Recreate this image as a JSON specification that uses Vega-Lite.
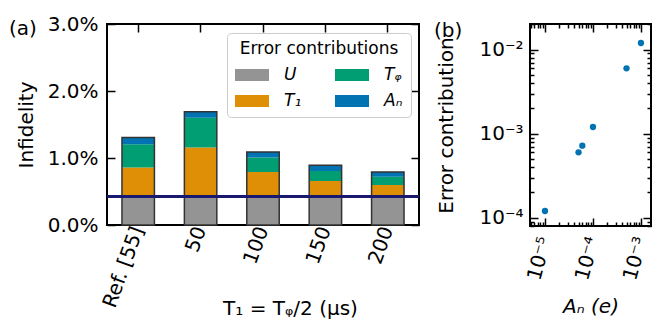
{
  "$schema": "https://vega.github.io/schema/vega-lite/v6.json",
  "padding": {"left": 8, "top": 13, "right": 16, "bottom": 1},
  "bounds": "flush",
  "config": {
    "font": "DejaVu Sans",
    "view": {"stroke": "black", "strokeWidth": 2},
    "axis": {
      "grid": false, "domain": false,
      "labelFont": "DejaVu Sans", "labelFontSize": 20, "labelColor": "black",
      "titleFont": "DejaVu Sans", "titleFontSize": 20, "titleFontWeight": "normal", "titleColor": "black",
      "tickColor": "black", "tickWidth": 1.5, "tickSize": -8, "labelPadding": 17
    },
    "title": {"font": "DejaVu Sans", "fontSize": 20, "fontWeight": "normal", "color": "black", "anchor": "start", "frame": "group"}
  },
  "datasets": {
    "bars": [
      {"setting": "Ref. [55]", "component": "U", "value": 0.42},
      {"setting": "Ref. [55]", "component": "T₁", "value": 0.437},
      {"setting": "Ref. [55]", "component": "Tᵩ", "value": 0.349},
      {"setting": "Ref. [55]", "component": "Aₙ", "value": 0.099},
      {"setting": "50", "component": "U", "value": 0.42},
      {"setting": "50", "component": "T₁", "value": 0.736},
      {"setting": "50", "component": "Tᵩ", "value": 0.444},
      {"setting": "50", "component": "Aₙ", "value": 0.09},
      {"setting": "100", "component": "U", "value": 0.42},
      {"setting": "100", "component": "T₁", "value": 0.372},
      {"setting": "100", "component": "Tᵩ", "value": 0.214},
      {"setting": "100", "component": "Aₙ", "value": 0.084},
      {"setting": "150", "component": "U", "value": 0.42},
      {"setting": "150", "component": "T₁", "value": 0.238},
      {"setting": "150", "component": "Tᵩ", "value": 0.149},
      {"setting": "150", "component": "Aₙ", "value": 0.083},
      {"setting": "200", "component": "U", "value": 0.42},
      {"setting": "200", "component": "T₁", "value": 0.178},
      {"setting": "200", "component": "Tᵩ", "value": 0.124},
      {"setting": "200", "component": "Aₙ", "value": 0.068}
    ],
    "pts": [
      {"An": 1e-5, "err": 1.2e-4},
      {"An": 5e-5, "err": 6.0e-4},
      {"An": 6e-5, "err": 7.2e-4},
      {"An": 1e-4, "err": 1.2e-3},
      {"An": 5e-4, "err": 6.0e-3},
      {"An": 1e-3, "err": 1.2e-2}
    ]
  },
  "spacing": 111,
  "hconcat": [
    {
      "width": 312, "height": 201,
      "title": {"text": "(a)", "dx": -98, "offset": -25},
      "data": {"name": "bars"},
      "transform": [{"calculate": "indexof(['U','T₁','Tᵩ','Aₙ'], datum.component)", "as": "stackOrder"}],
      "layer": [
        {
          "mark": {"type": "bar"},
          "encoding": {
            "x": {"field": "setting", "type": "nominal", "sort": ["Ref. [55]", "50", "100", "150", "200"],
                  "scale": {"paddingInner": 0.48, "paddingOuter": 0.24},
                  "axis": {"orient": "bottom", "labelAngle": -70, "labelAlign": "right", "labelBaseline": "middle", "labelPadding": 10, "title": "T₁ = Tᵩ/2 (μs)", "titleX": 183, "titleY": 89, "titleBaseline": "alphabetic"}},
            "y": {"field": "value", "type": "quantitative", "stack": "zero",
                  "scale": {"domain": [0, 3], "nice": false},
                  "axis": {"orient": "left", "values": [0, 1, 2, 3], "labelExpr": "format(datum.value, '.1f') + '%'", "title": "Infidelity", "titlePadding": 11}},
            "color": {"field": "component", "type": "nominal",
                      "scale": {"domain": ["U", "T₁", "Tᵩ", "Aₙ"], "range": ["#949494", "#DE8F05", "#029E73", "#0173B2"]},
                      "legend": {"orient": "none", "legendX": 120, "legendY": 9, "columns": 2,
                                 "title": "Error contributions", "titleFontSize": 17, "titleFontWeight": "normal", "titleColor": "black", "titleAnchor": "middle", "titlePadding": 0,
                                 "labelFontSize": 17, "labelFontStyle": "italic", "labelColor": "black", "labelOffset": 15,
                                 "symbolType": "M-1,-0.35H1V0.35H-1Z", "symbolSize": 1156, "symbolStrokeWidth": 0, "symbolOpacity": 1,
                                 "fillColor": "rgba(255,255,255,0.8)", "strokeColor": "#cccccc", "cornerRadius": 4, "padding": 8,
                                 "columnPadding": 33, "rowPadding": 1}},
            "order": {"field": "stackOrder", "type": "quantitative"}
          }
        },
        {
          "mark": {"type": "bar", "fillOpacity": 0, "stroke": "#333333", "strokeWidth": 1.5},
          "encoding": {
            "x": {"field": "setting", "type": "nominal", "sort": ["Ref. [55]", "50", "100", "150", "200"],
                  "axis": {"orient": "top", "labels": false, "title": null}},
            "y": {"aggregate": "sum", "field": "value", "type": "quantitative",
                  "axis": {"orient": "right", "labels": false, "title": null, "values": [0, 1, 2, 3]}}
          }
        },
        {
          "mark": {"type": "rule", "color": "#191970", "strokeWidth": 2},
          "encoding": {"y": {"datum": 0.42, "axis": null}}
        }
      ],
      "resolve": {"axis": {"x": "independent", "y": "independent"}}
    },
    {
      "width": 121, "height": 202,
      "title": {"text": "(b)", "dx": -96, "offset": -27},
      "data": {"name": "pts"},
      "layer": [
        {
          "mark": {"type": "circle", "size": 40, "color": "#0173B2", "opacity": 1},
          "encoding": {
            "x": {"field": "An", "type": "quantitative",
                  "scale": {"type": "log", "domain": [4.87e-6, 1.62e-3], "nice": false},
                  "axis": {"orient": "bottom", "title": "Aₙ (e)", "titleFontStyle": "italic", "titlePadding": 14, "labelAngle": -75, "labelAlign": "right", "labelBaseline": "middle", "labelPadding": 19,
                           "values": [5e-6, 6e-6, 7e-6, 8e-6, 9e-6, 1e-5, 2e-5, 3e-5, 4e-5, 5e-5, 6e-5, 7e-5, 8e-5, 9e-5, 1e-4, 2e-4, 3e-4, 4e-4, 5e-4, 6e-4, 7e-4, 8e-4, 9e-4, 1e-3],
                           "labelExpr": "abs(log(datum.value)/LN10 - round(log(datum.value)/LN10)) < 0.01 ? '10⁻' + ['⁰','¹','²','³','⁴','⁵','⁶'][-round(log(datum.value)/LN10)] : ''",
                           "tickSize": {"condition": {"test": "abs(log(datum.value)/LN10 - round(log(datum.value)/LN10)) < 0.01", "value": -8}, "value": -4},
                           "labelOverlap": false}},
            "y": {"field": "err", "type": "quantitative",
                  "scale": {"type": "log", "domain": [7.96e-5, 2.02e-2], "nice": false},
                  "axis": {"orient": "left", "title": "Error contribution", "titlePadding": 22,
                           "values": [8e-5, 9e-5, 1e-4, 2e-4, 3e-4, 4e-4, 5e-4, 6e-4, 7e-4, 8e-4, 9e-4, 1e-3, 2e-3, 3e-3, 4e-3, 5e-3, 6e-3, 7e-3, 8e-3, 9e-3, 1e-2, 2e-2],
                           "labelExpr": "abs(log(datum.value)/LN10 - round(log(datum.value)/LN10)) < 0.01 ? '10⁻' + ['⁰','¹','²','³','⁴','⁵','⁶'][-round(log(datum.value)/LN10)] : ''",
                           "tickSize": {"condition": {"test": "abs(log(datum.value)/LN10 - round(log(datum.value)/LN10)) < 0.01", "value": -8}, "value": -4},
                           "labelPadding": 15, "labelOverlap": false}}
          }
        },
        {
          "mark": {"type": "circle", "opacity": 0},
          "encoding": {
            "x": {"field": "An", "type": "quantitative",
                  "axis": {"orient": "top", "labels": false, "title": null,
                           "values": [5e-6, 6e-6, 7e-6, 8e-6, 9e-6, 1e-5, 2e-5, 3e-5, 4e-5, 5e-5, 6e-5, 7e-5, 8e-5, 9e-5, 1e-4, 2e-4, 3e-4, 4e-4, 5e-4, 6e-4, 7e-4, 8e-4, 9e-4, 1e-3],
                           "tickSize": {"condition": {"test": "abs(log(datum.value)/LN10 - round(log(datum.value)/LN10)) < 0.01", "value": -8}, "value": -4}}},
            "y": {"field": "err", "type": "quantitative",
                  "axis": {"orient": "right", "labels": false, "title": null,
                           "values": [8e-5, 9e-5, 1e-4, 2e-4, 3e-4, 4e-4, 5e-4, 6e-4, 7e-4, 8e-4, 9e-4, 1e-3, 2e-3, 3e-3, 4e-3, 5e-3, 6e-3, 7e-3, 8e-3, 9e-3, 1e-2, 2e-2],
                           "tickSize": {"condition": {"test": "abs(log(datum.value)/LN10 - round(log(datum.value)/LN10)) < 0.01", "value": -8}, "value": -4}}}
          }
        }
      ],
      "resolve": {"axis": {"x": "independent", "y": "independent"}}
    }
  ]
}
